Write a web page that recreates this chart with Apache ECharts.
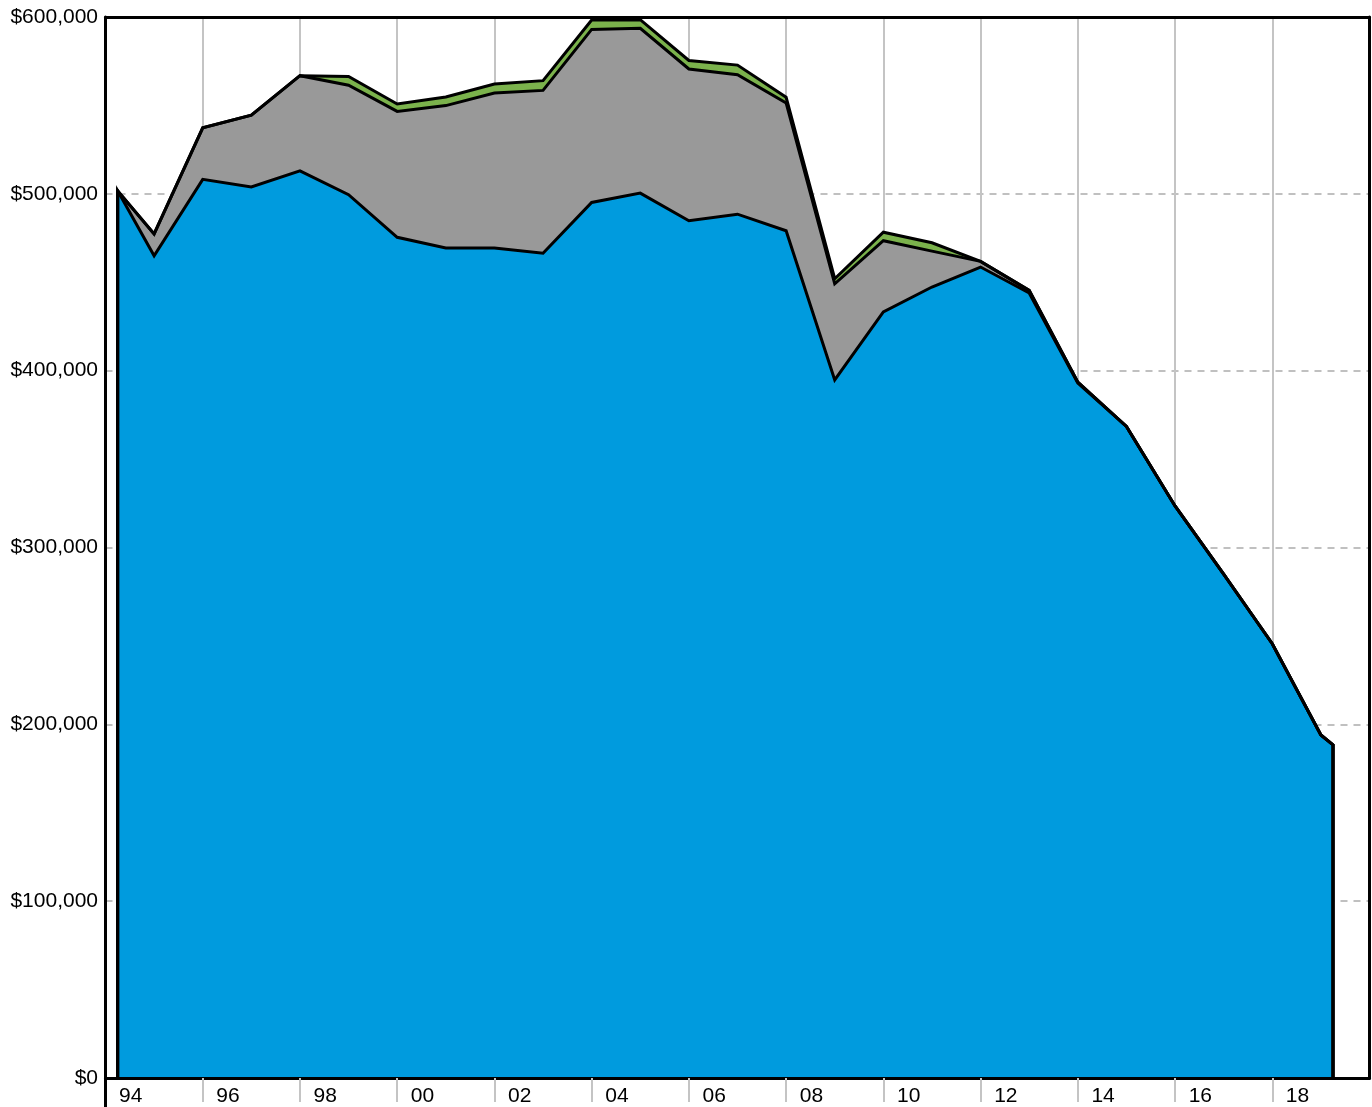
<!DOCTYPE html>
<html>
<head>
<meta charset="utf-8">
<script src="https://cdn.jsdelivr.net/npm/echarts@6/dist/echarts.min.js"></script>
<style>
html,body{margin:0;padding:0;background:#fff;}
#chart{width:1372px;height:1107px;}
</style>
</head>
<body>
<div id="chart"></div>
<script>
// ---- data ----
const years = [1994.25, 1995, 1996, 1997, 1998, 1999, 2000, 2001, 2002, 2003, 2004, 2005, 2006,
  2007, 2008, 2009, 2010, 2011, 2012, 2013, 2014, 2015, 2016, 2017, 2018, 2019, 2019.25];
const blueValues = [501700, 465000, 508200, 503900, 513000, 499500, 475400, 469400, 469400, 466400,
  495100, 500400, 484800, 488500, 479100, 394800, 433200, 447300, 458600, 443900, 393000, 368500,
  323500, 285000, 245600, 194000, 188400];
const grayValues = [0, 12300, 29100, 40600, 53800, 61900, 71200, 80500, 87600, 92100,
  97900, 93200, 85800, 78900, 72300, 54300, 40300, 20300, 3200, 1500, 500, 0,
  0, 0, 0, 0, 0];
const greenValues = [0, 0, 0, 0, 0, 5000, 4200, 4900, 5100, 5500,
  5300, 4900, 4800, 5400, 3200, 2900, 4800, 4700, 0, 0, 0, 0,
  0, 0, 0, 0, 0];
const yTickValues = [0, 100000, 200000, 300000, 400000, 500000, 600000];
const xTickYears = [1994, 1996, 1998, 2000, 2002, 2004, 2006, 2008, 2010, 2012, 2014, 2016, 2018];
const xLabels = ['94', '96', '98', '00', '02', '04', '06', '08', '10', '12', '14', '16', '18'];

const colors = { blue: '#009BDE', gray: '#999999', green: '#7BB24C' };
const FONT = '"Liberation Sans", Arial, Helvetica, sans-serif';
const LABEL_SHIFT = 0.52; // x labels sit mid-way between the 2-year ticks

// cumulative (stacked) tops built from the value arrays
const cumBlue = blueValues.slice();
const cumGray = cumBlue.map((v, i) => v + grayValues[i]);
const cumGreen = cumGray.map((v, i) => v + greenValues[i]);

// close each band with baseline points so the outline drops to the axis at both ends
function build(vals) {
  const pts = years.map((y, i) => [y, vals[i]]);
  return [[years[0], 0]].concat(pts, [[years[years.length - 1], 0]]);
}

const bands = [
  { name: 'Green', tops: cumGreen, color: colors.green },
  { name: 'Gray', tops: cumGray, color: colors.gray },
  { name: 'Blue', tops: cumBlue, color: colors.blue }
];

const series = [];
bands.forEach((b, k) => {
  series.push({
    name: b.name, type: 'line', data: build(b.tops),
    symbol: 'none', showSymbol: false, silent: true, z: 2 + k * 0.01,
    lineStyle: { width: 0, color: b.color },
    areaStyle: { color: b.color, opacity: 1, origin: 'start' }
  });
});
bands.forEach(b => {
  series.push({
    name: b.name + ' outline', type: 'line', data: build(b.tops),
    symbol: 'none', showSymbol: false, silent: true, z: 3,
    lineStyle: { width: 3, color: '#000', join: 'miter' }
  });
});

const chart = echarts.init(document.getElementById('chart'), null, { renderer: 'canvas' });
chart.setOption({
  animation: false,
  backgroundColor: '#fff',
  grid: { left: 105.5, right: 2.5, top: 17, bottom: 24, containLabel: false },
  xAxis: [
    { // bottom: axis line, ticks, labels (drawn above the areas)
      type: 'value', min: 1994, max: 2020, interval: 2, position: 'bottom', z: 10,
      axisLine: { show: true, onZero: false, lineStyle: { color: '#000', width: 3 } },
      axisTick: { show: true, customValues: xTickYears, length: 24, lineStyle: { color: '#c4c4c4', width: 2 } },
      axisLabel: {
        show: true, customValues: xTickYears.map(y => y + LABEL_SHIFT), margin: 8,
        color: '#000', fontSize: 21, fontFamily: FONT,
        formatter: v => xLabels[xTickYears.indexOf(Math.round(v - LABEL_SHIFT))]
      },
      splitLine: { show: false }
    },
    { // top: vertical grid lines and top border
      type: 'value', min: 1994, max: 2020, interval: 2, position: 'top', z: 0,
      axisLine: { show: true, onZero: false, lineStyle: { color: '#000', width: 3 } },
      axisTick: { show: false }, axisLabel: { show: false },
      splitLine: { show: true, lineStyle: { color: '#c4c4c4', width: 2, type: 'solid' } }
    }
  ],
  yAxis: [
    { // left: axis line & labels
      type: 'value', min: 0, max: 600000, interval: 100000, position: 'left', z: 10,
      axisLine: { show: true, onZero: false, lineStyle: { color: '#000', width: 3 } },
      axisTick: { show: false },
      axisLabel: {
        show: true, margin: 7.5, color: '#000', fontSize: 21, fontFamily: FONT,
        customValues: yTickValues,
        formatter: v => '$' + Number(v).toLocaleString('en-US')
      },
      splitLine: { show: false }
    },
    { // right: dashed horizontal grid lines and right border
      type: 'value', min: 0, max: 600000, interval: 100000, position: 'right', z: 0,
      axisLine: { show: true, onZero: false, lineStyle: { color: '#000', width: 3 } },
      axisTick: { show: false }, axisLabel: { show: false },
      splitLine: { show: true, lineStyle: { color: '#c0c0c0', width: 2, type: [7, 6] } }
    }
  ],
  series: series
});

// extend the left axis line below the plot like the reference
const p = chart.convertToPixel({ gridIndex: 0 }, [1994, 0]);
chart.setOption({
  graphic: [{
    type: 'line', z: 20, silent: true,
    shape: { x1: p[0], y1: p[1], x2: p[0], y2: 1107 },
    style: { stroke: '#000', lineWidth: 3 }
  }]
});
</script>
</body>
</html>
